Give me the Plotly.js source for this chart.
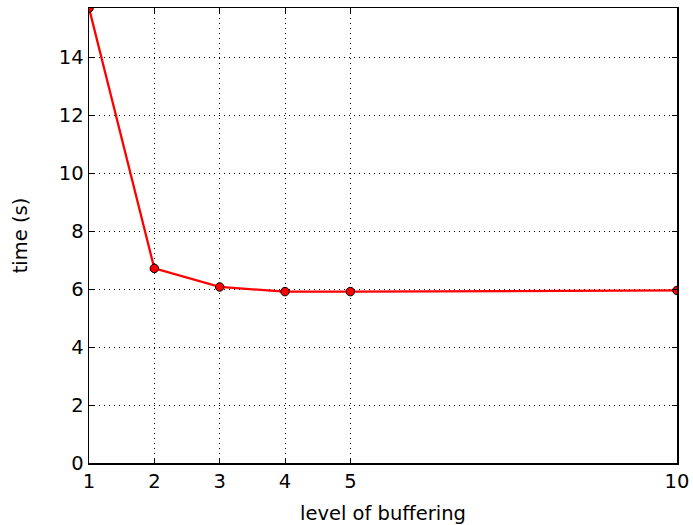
<!DOCTYPE html>
<html>
<head>
<meta charset="utf-8">
<script src="https://cdn.plot.ly/plotly-3.0.1.min.js"></script>
<style>html,body{margin:0;padding:0;background:#fff;}#chart{width:693px;height:525px;}</style>
</head>
<body>
<div id="chart"></div>
<script>
const levels = [1, 2, 3, 4, 5, 10];
const times = [15.69, 6.71, 6.07, 5.91, 5.91, 5.95];
const xTicks = [1, 2, 3, 4, 5, 10];
const yTicks = [0, 2, 4, 6, 8, 10, 12, 14];

const trace = {
  x: levels, y: times, type: 'scatter', mode: 'lines+markers',
  line: {color: '#ff0000', width: 2.3},
  marker: {color: '#ff0000', size: 8.5, line: {color: '#000000', width: 1}},
  cliponaxis: true
};
const axisCommon = {
  showline: true, linecolor: '#000', linewidth: 1.5, mirror: 'ticks',
  ticks: 'inside', ticklen: 5, tickcolor: '#000', tickwidth: 1,
  showgrid: true, gridcolor: '#000', griddash: '1px,4px', gridwidth: 1,
  zeroline: false,
  tickfont: {family: 'DejaVu Sans', size: 19.5, color: '#000'}
};
const layout = {
  width: 693, height: 525,
  margin: {l: 89, r: 16, t: 8, b: 62},
  paper_bgcolor: '#fff', plot_bgcolor: '#fff',
  showlegend: false,
  font: {family: 'DejaVu Sans', color: '#000'},
  xaxis: Object.assign({}, axisCommon, {
    range: [1, 10], tickvals: xTicks, ticktext: xTicks.map(String),
    title: {text: 'level of buffering', font: {family: 'DejaVu Sans', size: 19.5}, standoff: 16}
  }),
  yaxis: Object.assign({}, axisCommon, {
    range: [0, 15.69], tickvals: yTicks, ticktext: yTicks.map(String),
    title: {text: 'time (s)', font: {family: 'DejaVu Sans', size: 19.5}, standoff: 26}
  })
};
Plotly.newPlot('chart', [trace], layout, {displayModeBar: false, staticPlot: true});
</script>
</body>
</html>
